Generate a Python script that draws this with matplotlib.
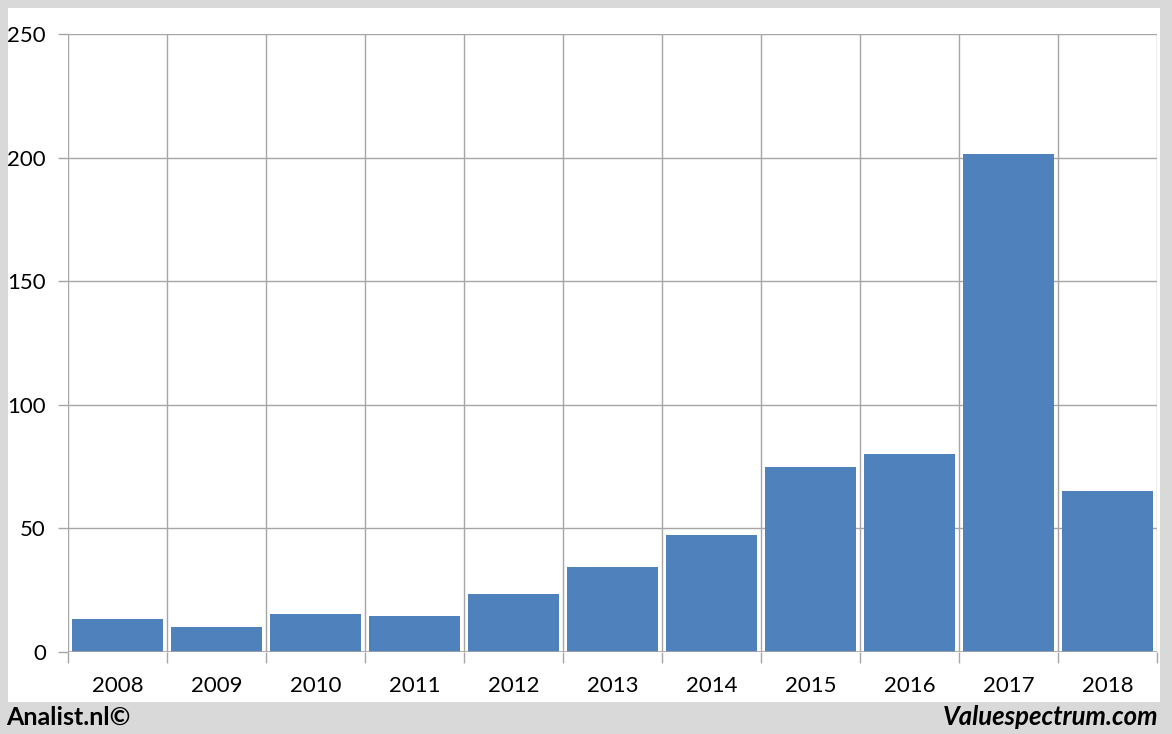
import matplotlib
matplotlib.use("Agg")
import matplotlib.pyplot as plt
from matplotlib.patches import Rectangle
import numpy as np

years = ["2008", "2009", "2010", "2011", "2012", "2013", "2014", "2015", "2016", "2017", "2018"]
values = [13.3, 10.1, 15.4, 14.6, 23.5, 34.4, 47.3, 74.8, 80.1, 201.5, 65.1]
yticks = [0, 50, 100, 150, 200, 250]

W, H = 1172, 734
fig = plt.figure(figsize=(W / 100, H / 100), dpi=100)
fig.patch.set_facecolor("#d9d9d9")
fig.patches.append(Rectangle((8 / W, 1 - 702 / H), (1160 - 8) / W, (702 - 8) / H,
                             transform=fig.transFigure, facecolor="white",
                             edgecolor="none", zorder=-10))

ax = fig.add_axes([68 / W, 1 - 652 / H, (1157 - 68) / W, (652 - 34) / H])
ax.set_facecolor("none")
grid_c = "#a6a6a6"

x = np.arange(len(years))
ax.bar(x, values, width=0.92, color="#4f81bd", zorder=3)

ax.set_xlim(-0.5, len(years) - 0.5)
ax.set_ylim(0, 250)
ax.set_yticks(yticks)
ax.set_yticklabels([str(v) for v in yticks])
ax.set_xticks(x)
ax.set_xticklabels(years)
ax.set_xticks(np.arange(-0.5, len(years)), minor=True)

for s in ax.spines.values():
    s.set_visible(False)
ax.axhline(0, color=grid_c, lw=1.2, zorder=4)

ax.grid(True, axis="y", which="major", color=grid_c, lw=1.0, zorder=1)
ax.grid(True, axis="x", which="minor", color=grid_c, lw=1.0, zorder=1)
ax.grid(False, axis="x", which="major")

ax.tick_params(axis="x", which="major", length=0, pad=17, labelsize=16)
ax.tick_params(axis="x", which="minor", length=8, color=grid_c, width=1)
ax.tick_params(axis="y", which="major", length=7, color=grid_c, width=1, pad=9, labelsize=16)
for lab in ax.get_xticklabels() + ax.get_yticklabels():
    lab.set_fontfamily("Lato")

fig.text(6 / W, 1 - 717 / H, "Analist.nl©", fontsize=18, fontweight="bold",
         family="Lato", va="center", ha="left")
fig.text(1158 / W, 1 - 717 / H, "Valuespectrum.com", fontsize=18.5, fontweight="bold",
         style="italic", family="Lato", va="center", ha="right")

fig.savefig("out.png", dpi=100, facecolor=fig.get_facecolor())
